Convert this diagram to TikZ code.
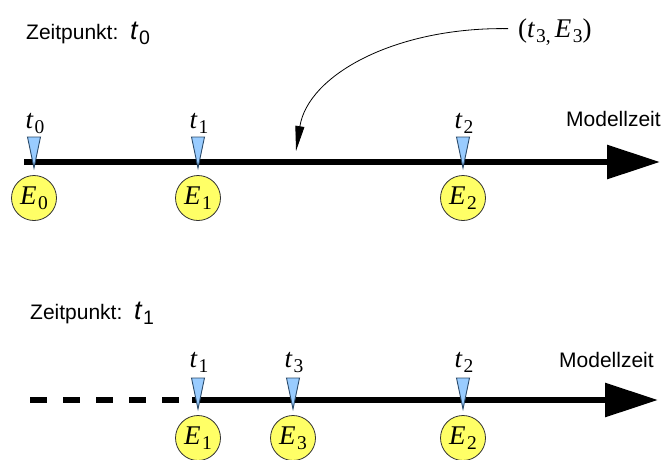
\documentclass[tikz,border=0pt]{standalone}
\usepackage{fontspec}
\setmainfont{Liberation Serif}
\setsansfont{Liberation Sans}
\usetikzlibrary{arrows.meta}
\newcommand{\sub}[2]{{\fontsize{27}{27}\selectfont\itshape #1}\kern1.5pt\raisebox{-5pt}{\fontsize{19.5}{19.5}\selectfont #2}}
\definecolor{mkfill}{HTML}{99CCFF}
\definecolor{mkdraw}{HTML}{2A4A6A}
\definecolor{evfill}{HTML}{FFFF66}
\tikzset{
  axis/.style={line width=6pt, -{Triangle[length=53pt,width=33pt]}},
  dashaxis/.style={line width=6pt, dash pattern=on 17pt off 16pt},
  mk/.style={fill=mkfill, draw=mkdraw, line width=0.9pt, line join=miter},
  ev/.style={circle, minimum size=45pt, inner sep=0pt, fill=evfill, draw=black!80, line width=0.8pt},
  tlab/.style={anchor=base, inner sep=0pt},
  txt/.style={anchor=base west, inner sep=0pt, font=\sffamily\fontsize{21}{22}\selectfont},
}
\newcommand{\marker}[1]{\path[mk] (#1) ++(-6.5,-31) -- ++(13,0) -- (#1) -- cycle;}
\begin{document}
\begin{tikzpicture}[x=1pt,y=-1pt]
\useasboundingbox (0,0) rectangle (661,459);
% ---------- top ----------
\node[txt] (z0) at (26,39) {Zeitpunkt:\ \ \sub{t}{0}};
\coordinate (a0) at (24,162);
\coordinate (a1) at (660,162);
\draw[axis] (a0) -- (a1);
\node[txt] (m0) at (566,126) {Modellzeit};
\coordinate (p0) at (34,168);
\coordinate (p1) at (198,168);
\coordinate (p2) at (463,168);
\node[ev] (e0) at (34,198) {\sub{E}{0}};
\node[ev] (e1) at (198,198) {\sub{E}{1}};
\node[ev] (e2) at (463,198) {\sub{E}{2}};
\marker{p0}
\marker{p1}
\marker{p2}
\node[tlab] (l0) at (35,128) {\sub{t}{0}};
\node[tlab] (l1) at (199,128) {\sub{t}{1}};
\node[tlab] (l2) at (464,128) {\sub{t}{2}};
\node[anchor=base west, inner sep=0pt] (n3) at (518,37) {\fontsize{27}{27}\selectfont(\sub{t}{3,}\kern4pt\sub{E}{3})};
\coordinate (c3) at (296,151);
\draw[line width=0.8pt, -{Triangle[length=25pt,width=9pt]}] ([xshift=-10pt,yshift=3pt]n3.west) .. controls (395,27) and (308,75) .. (c3);
% ---------- bottom ----------
\node[txt] (z1) at (30,319) {Zeitpunkt:\ \ \sub{t}{1}};
\coordinate (b0) at (30,400);
\coordinate (b1) at (190,400);
\coordinate (b2) at (192,400);
\coordinate (b3) at (658,400);
\draw[dashaxis] (b0) -- (b1);
\draw[axis] (b2) -- (b3);
\node[txt] (m1) at (559,367) {Modellzeit};
\coordinate (q1) at (198,409);
\coordinate (q3) at (293,409);
\coordinate (q2) at (463,409);
\node[ev] (f1) at (198,438) {\sub{E}{1}};
\node[ev] (f3) at (293,438) {\sub{E}{3}};
\node[ev] (f2) at (463,438) {\sub{E}{2}};
\marker{q1}
\marker{q3}
\marker{q2}
\node[tlab] (k1) at (199,367) {\sub{t}{1}};
\node[tlab] (k3) at (294,367) {\sub{t}{3}};
\node[tlab] (k2) at (464,367) {\sub{t}{2}};
\end{tikzpicture}
\end{document}
